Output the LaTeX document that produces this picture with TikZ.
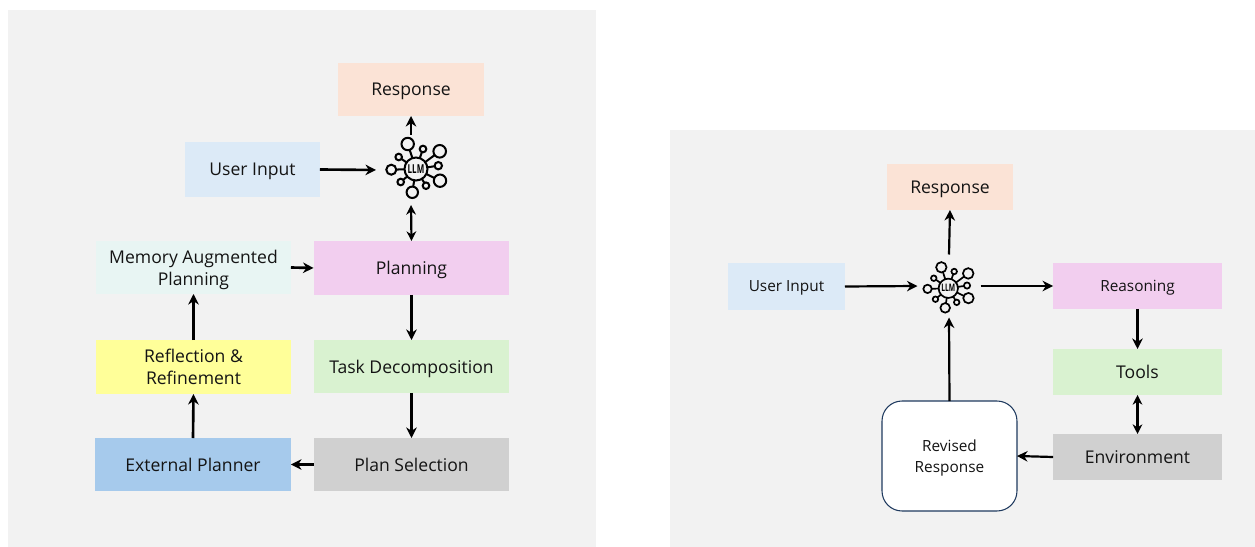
\documentclass[tikz,border=0pt]{standalone}
\usepackage{fontspec}
\setmainfont{Open Sans}
\usetikzlibrary{arrows.meta}
\definecolor{panelgray}{HTML}{F2F2F2}
\definecolor{respcol}{HTML}{FBE3D6}
\definecolor{inputcol}{HTML}{DCEAF7}
\definecolor{memcol}{HTML}{E8F5F3}
\definecolor{plancol}{HTML}{F2CEEF}
\definecolor{reflcol}{HTML}{FFFF99}
\definecolor{taskcol}{HTML}{D9F2D0}
\definecolor{extcol}{HTML}{A6CAEC}
\definecolor{selcol}{HTML}{D0D0D0}
\definecolor{revcol}{HTML}{1F3A5F}
\tikzset{
  box/.style={rectangle,inner sep=0pt,outer sep=0pt,align=center,text=black!92,text depth=0pt,font=\fontsize{10}{12.5}\selectfont},
  boxsmall/.style={box,font=\fontsize{8.75}{12}\selectfont},
  arr/.style={-{Stealth[length=6pt,width=6pt]},line width=1.5pt},
  arrthin/.style={arr,line width=1.25pt},
  arrboth/.style={{Stealth[length=5.5pt,width=5.5pt]}-{Stealth[length=5.5pt,width=5.5pt]},line width=1.25pt},
  llmhub/.style={circle,inner sep=0pt,outer sep=0pt},
}
% network icon: centre (#1,#2), scale #3, label name #4
\newcommand{\llmicon}[4]{
\begin{scope}[shift={(#1,#2)},scale=#3,line width=#3*1.15pt]
\foreach \a/\b/\r in {-8.3/-25/6.2,7/-20/3.3,23.7/-17.7/6.3,22.3/-3.3/3.7,24/11.7/6.2,10/16.7/3.3,-3.7/23.3/5.7,-15.3/13/3.3,-24.7/0.7/5,-17.3/-12/3.3}{
  \draw (0,0) -- (\a,\b);
  \draw[fill=panelgray] (\a,\b) circle (\r);
}
\draw[fill=panelgray] (0,0) circle (11.5);
\node[inner sep=0pt,font=\bfseries\fontsize{7}{7}\selectfont,transform shape,xscale=0.65] (#4) at (0,0) {LLM};
\end{scope}
}
\begin{document}
\begin{tikzpicture}[x=0.02cm,y=-0.02cm]
\useasboundingbox (0,0) rectangle (1255,547);
\fill[white] (0,0) rectangle (1255,547);
\fill[panelgray] (8,10) rectangle (596,547);
\fill[panelgray] (670,130) rectangle (1255,547);

% left panel
\node[box,fill=respcol,minimum width=2.92cm,minimum height=1.06cm] (respA) at (411,89.5) {Response};
\node[box,fill=inputcol,minimum width=2.7cm,minimum height=1.1cm] (inputA) at (252.5,169.5) {User Input};
\node[box,fill=memcol,minimum width=3.9cm,minimum height=1.06cm] (memA) at (193.5,267.5) {Memory Augmented\\Planning};
\node[box,fill=plancol,minimum width=3.92cm,minimum height=1.08cm] (planA) at (411.5,268) {Planning};
\node[box,fill=reflcol,minimum width=3.9cm,minimum height=1.08cm] (reflA) at (193.5,367) {Reflection \&\\Refinement};
\node[box,fill=taskcol,minimum width=3.92cm,minimum height=1.06cm] (taskA) at (411.5,366.5) {Task Decomposition};
\node[box,fill=extcol,minimum width=3.92cm,minimum height=1.06cm] (extA) at (193,464.5) {External Planner};
\node[box,fill=selcol,minimum width=3.92cm,minimum height=1.06cm] (selA) at (411.5,464.5) {Plan Selection};
\node[llmhub,minimum size=1.4cm] (llmA) at (411,170) {};
\llmicon{416}{169}{1}{llmtextA}

\draw[arr] (llmA.north) -- (respA.south);
\draw[arr] (inputA.east) -- (llmA.west);
\draw[arrboth] (llmA.south) -- (planA.north);
\draw[arr] (memA.east) -- (planA.west);
\draw[arr] (reflA.north) -- (memA.south);
\draw[arr] (planA.south) -- (taskA.north);
\draw[arr] (taskA.south) -- (selA.north);
\draw[arr] (selA.west) -- (extA.east);
\draw[arr] (extA.north) -- (reflA.south);

% right panel
\node[box,fill=respcol,minimum width=2.52cm,minimum height=0.92cm] (respB) at (950,187) {Response};
\node[boxsmall,fill=inputcol,minimum width=2.34cm,minimum height=0.94cm] (inputB) at (786.5,286.5) {User Input};
\node[boxsmall,fill=plancol,minimum width=3.38cm,minimum height=0.92cm] (reasonB) at (1137.5,286) {Reasoning};
\node[box,fill=taskcol,minimum width=3.38cm,minimum height=0.92cm] (toolsB) at (1137.5,372) {Tools};
\node[box,fill=selcol,minimum width=3.38cm,minimum height=0.92cm] (envB) at (1137.5,457) {Environment};
\node[boxsmall,draw=revcol,fill=white,line width=0.6pt,rounded corners=0.4cm,minimum width=2.7cm,minimum height=2.2cm] (revB) at (949.5,456) {Revised\\Response};
\node[llmhub,minimum size=1.26cm] (llmB) at (949,286) {};
\llmicon{948.3}{288.3}{0.84}{llmtextB}

\draw[arrthin] (llmB.north) -- (respB.south);
\draw[arrthin] (inputB.east) -- (llmB.west);
\draw[arrthin] (llmB.east) -- (reasonB.west);
\draw[arrthin] (reasonB.south) -- (toolsB.north);
\draw[arrboth] (toolsB.south) -- (envB.north);
\draw[arrthin] (envB.west) -- (revB.east);
\draw[arrthin] (revB.north) -- (llmB.south);
\end{tikzpicture}
\end{document}
